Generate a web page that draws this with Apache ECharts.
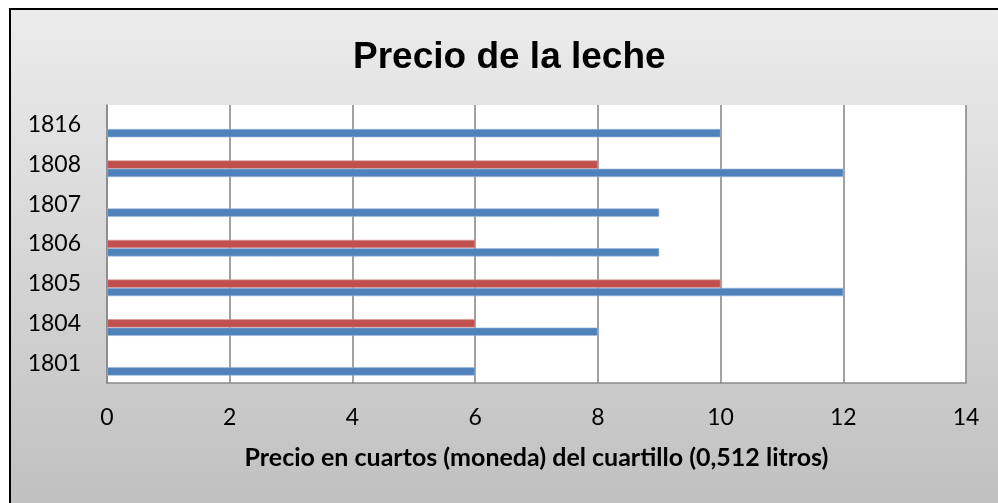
<!DOCTYPE html>
<html><head><meta charset="utf-8">
<script src="https://cdn.jsdelivr.net/npm/echarts@6/dist/echarts.min.js"></script>
<style>html,body{margin:0;padding:0;background:#fff}#c{width:998px;height:503px}</style>
</head><body><div id="c"></div>
<script>
const categories = ['1801','1804','1805','1806','1807','1808','1816'];
const seriesBlue = [6, 8, 12, 9, 9, 12, 10];
const seriesRed = [null, 6, 10, 6, null, 8, null];
const seriesEmpty = [null, null, null, null, null, null, null];
const xTicks = [0, 2, 4, 6, 8, 10, 12, 14];
const titleText = 'Precio de la leche';
const xAxisName = 'Precio en cuartos (moneda) del cuartillo (0,512 litros)';

const chart = echarts.init(document.getElementById('c'), null, {renderer: 'canvas'});
chart.setOption({
  animation: false,
  backgroundColor: '#fff',
  graphic: [{
    type: 'rect', z: -10, silent: true,
    shape: {x: 10, y: 9, width: 1000, height: 510},
    style: {
      fill: new echarts.graphic.LinearGradient(0, 0, 0, 1, [
        {offset: 0, color: '#ececec'}, {offset: 1, color: '#bfbfbf'}
      ]),
      stroke: '#000', lineWidth: 2
    }
  }],
  title: {
    text: titleText, left: 348, top: 34,
    textStyle: {fontFamily: 'Liberation Sans', fontWeight: 'bold', fontSize: 37, color: '#000'}
  },
  grid: {left: 107, right: 32, top: 105, bottom: 120, show: true, backgroundColor: '#fff', borderWidth: 0},
  xAxis: {
    type: 'value', min: xTicks[0], max: xTicks[xTicks.length-1], interval: 2,
    axisLine: {show: true, lineStyle: {color: '#8a8a8a', width: 1.6}},
    axisTick: {show: false},
    splitLine: {show: true, lineStyle: {color: '#8a8a8a', width: 1.6}},
    axisLabel: {fontFamily: 'Lato', fontSize: 23, color: '#000', margin: 23},
    name: xAxisName, nameLocation: 'middle', nameGap: 62,
    nameTextStyle: {fontFamily: 'Lato', fontWeight: 'bold', fontSize: 25, color: '#000'}
  },
  yAxis: {
    type: 'category', data: categories,
    axisLine: {show: true, lineStyle: {color: '#8a8a8a', width: 1.6}},
    axisTick: {show: false},
    axisLabel: {fontFamily: 'Lato', fontSize: 23, color: '#000', margin: 26}
  },
  series: [
    {type: 'bar', data: seriesEmpty, barWidth: 8.3, barGap: '0%'},
    {type: 'bar', data: seriesRed, barWidth: 8.3, barGap: '0%', itemStyle: {color: '#c0504d', borderColor: '#dc9896', borderWidth: 0.6}},
    {type: 'bar', data: seriesBlue, barWidth: 8.3, barGap: '0%', itemStyle: {color: '#4f81bd', borderColor: '#9db8da', borderWidth: 0.6}}
  ]
});
</script></body></html>
